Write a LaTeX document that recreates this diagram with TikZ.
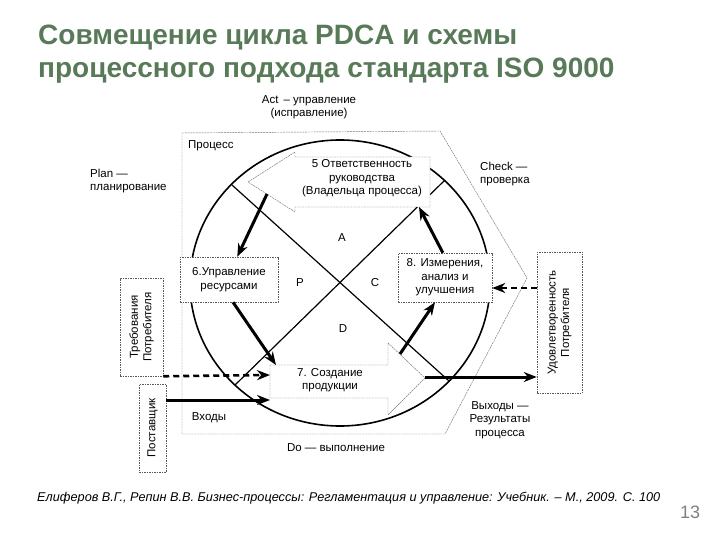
\documentclass[tikz,border=0pt]{standalone}
\usepackage{fontspec}
\setmainfont{Liberation Sans}
\usepackage{tikz}
\usetikzlibrary{arrows.meta}
\usetikzlibrary{positioning,calc}
\definecolor{titlegreen}{RGB}{88,122,88}
\definecolor{pagegray}{RGB}{128,128,128}
\tikzset{
    box/.style={
        draw=black!65,
        dash pattern=on 1.5pt off 1pt,
        line width=0.5pt,
        fill=white,
        inner sep=1pt
    },
    lbl/.style={
        align=center,
        inner sep=0pt,
        font=\fontsize{11.5}{13.5}\selectfont
    },
    outline/.style={
        draw=black!55,
        line width=0.45pt,
        dash pattern=on 2pt off 0.8pt
    },
    flow/.style={
        -{Stealth[length=13pt, width=10pt]},
        line width=3pt
    },
    dflow/.style={
        -{Stealth[length=13pt, width=10pt]},
        line width=2.6pt,
        dash pattern=on 6pt off 4pt
    }
}

\begin{document}
\begin{tikzpicture}[x=1pt, y=-1pt]
    \useasboundingbox (0,0) rectangle (720,540);

    % Title
    \node[anchor=base west, inner sep=0pt, text=titlegreen,
        font=\fontsize{28}{32}\selectfont\bfseries] (title1) at (38,45) {Совмещение цикла PDCA и схемы};
    \node[anchor=base west, inner sep=0pt, text=titlegreen,
        font=\fontsize{28}{32}\selectfont\bfseries] (title2) at (38,78) {процессного подхода стандарта ISO 9000};

    % Process frame with Check corner
    \draw[outline] (182,133) -- (440,131) -- (527,278) -- (445,434) -- (182,434) -- cycle;

    % PDCA circle and diagonals
    \draw[line width=1.6pt] (340,283) ellipse [x radius=150, y radius=143];
    \draw[line width=1.2pt] (232,185) -- (449,381);
    \draw[line width=1.2pt] (235,385) -- (445,180);

    % Arrow-shaped boxes 5 and 7
    \draw[outline, fill=white] (295,157) -- (430,157) -- (430,207) -- (295,207)
        -- (295,212) -- (248,182) -- (295,152) -- cycle;
    \node[lbl] (b5) at (362,178.5) {5 Ответственность\\руководства\\(Владельца процесса)};
    \draw[outline, fill=white] (270,365) -- (388,365) -- (388,343) -- (425,378)
        -- (388,415) -- (388,398) -- (270,398) -- cycle;
    \node[lbl] (b7) at (330,380) {7. Создание\\продукции};

    % Boxes 6 and 8
    \node[box, minimum width=98pt, minimum height=45pt] (b6) at (229,279.5) {};
    \node[lbl] at (b6) {6.Управление\\ресурсами};
    \node[box, minimum width=94pt, minimum height=49pt] (b8) at (445,277.5) {};
    \node[lbl] at (b8) {8. Измерения,\\анализ и\\улучшения};

    % Outside boxes
    \node[box, minimum width=43pt, minimum height=98pt] (tr) at (141.5,327) {};
    \node[lbl, rotate=90] at (tr) {Требования\\Потребителя};
    \node[box, minimum width=27pt, minimum height=88pt] (ps) at (152.5,428) {};
    \node[lbl, rotate=90] at (ps) {Поставщик};
    \node[box, minimum width=45pt, minimum height=141pt] (ud) at (559.5,322.5) {};
    \node[lbl, rotate=90] at (ud) {Удовлетворенность\\Потребителя};

    % PDCA letters
    \node[lbl] (la) at (342,238) {A};
    \node[lbl] (lp) at (300,283) {P};
    \node[lbl] (lc) at (375,283) {C};
    \node[lbl] (ld) at (343,329) {D};

    % Labels
    \node[lbl] (act) at (309,107) {Act \,– управление\\(исправление)};
    \node[lbl, align=left, anchor=west] (plan) at (90,181) {Plan —\\планирование};
    \node[lbl, align=left, anchor=west] (check) at (480,174) {Check —\\проверка};
    \node[lbl, anchor=west] (proc) at (188,146) {Процесс};
    \node[lbl] (inp) at (209,418) {Входы};
    \node[lbl] (outp) at (500,420) {Выходы —\\Результаты\\процесса};
    \node[lbl] (do) at (336,448) {Do — выполнение};

    % Connection points
    \coordinate (b5s) at (267,194);
    \coordinate (b5e) at (419,207);
    \coordinate (b7a) at (276,365);
    \coordinate (b7b) at (400,354);
    \coordinate (b7w) at (270,375);
    \coordinate (b7sw) at (270,400);
    \coordinate (b7t) at (425,377);
    \coordinate (u8) at (537,288);

    % Flows
    \draw[flow] (b5s) -- (b6.70);
    \draw[flow] (b6.-80) -- (b7a);
    \draw[flow] (b7b) -- (b8.-112);
    \draw[flow] (b8.95) -- (b5e);
    \draw[flow] (ps.east |- b7sw) -- (b7sw);
    \draw[flow] (b7t) -- (b7t -| ud.west);
    \draw[dflow] (tr.south east) -- (b7w);
    \draw[dflow] (u8) -- (u8 -| b8.east);

    % Footer
    \node[anchor=base west, inner sep=0pt, font=\fontsize{12.7}{15}\selectfont\itshape] (src) at (37,501)
        {Елиферов В.Г., Репин В.В. Бизнес-процессы: Регламентация и управление: Учебник. – М., 2009. С. 100};
    \node[anchor=base west, inner sep=0pt, text=pagegray, font=\fontsize{18}{20}\selectfont] (pg) at (680,518) {13};
\end{tikzpicture}
\end{document}
